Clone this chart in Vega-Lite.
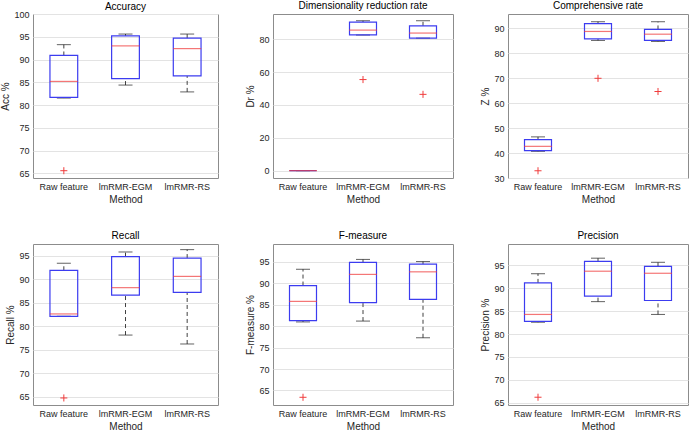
{
  "$schema": "https://vega.github.io/schema/vega-lite/v6.json",
  "background": "white",
  "padding": {"left": 0, "top": 0, "right": 2, "bottom": 0},
  "config": {
    "font": "Liberation Sans",
    "view": {"stroke": "#8c8c8c", "strokeWidth": 1},
    "axis": {"labelFontSize": 9, "labelColor": "#262626", "titleFontSize": 10, "titleColor": "#262626", "titleFontWeight": "normal", "domain": false, "ticks": false, "labelPadding": 4, "gridColor": "#e3e3e3", "gridWidth": 1, "labelOverlap": false},
    "axisX": {"grid": false, "labelAngle": 0, "titlePadding": 3},
    "axisY": {"grid": true, "titlePadding": 3, "tickCount": 20},
    "title": {"fontSize": 10, "fontWeight": "normal", "color": "#000000", "offset": 3}
  },
  "datasets": {
    "d": [
      {"metric": "Accuracy", "method": "Raw feature", "lo": 81.55, "q1": 81.7, "med": 85.2, "q3": 90.9, "hi": 93.27, "out": 65.6},
      {"metric": "Accuracy", "method": "lmRMR-EGM", "lo": 84.4, "q1": 85.8, "med": 93.0, "q3": 95.2, "hi": 95.6, "out": null},
      {"metric": "Accuracy", "method": "lmRMR-RS", "lo": 82.9, "q1": 86.4, "med": 92.4, "q3": 94.7, "hi": 95.6, "out": null},
      {"metric": "Dr", "method": "Raw feature", "lo": 0, "q1": 0, "med": 0, "q3": 0, "hi": 0, "out": null},
      {"metric": "Dr", "method": "lmRMR-EGM", "lo": 82.5, "q1": 82.6, "med": 85.5, "q3": 90.4, "hi": 91.2, "out": 55.4},
      {"metric": "Dr", "method": "lmRMR-RS", "lo": 80.6, "q1": 80.6, "med": 83.7, "q3": 88.1, "hi": 91.2, "out": 46.4},
      {"metric": "Z", "method": "Raw feature", "lo": 40.7, "q1": 41.0, "med": 42.7, "q3": 45.4, "hi": 46.5, "out": 32.9},
      {"metric": "Z", "method": "lmRMR-EGM", "lo": 85.2, "q1": 85.8, "med": 88.8, "q3": 91.9, "hi": 92.7, "out": 70.0},
      {"metric": "Z", "method": "lmRMR-RS", "lo": 84.8, "q1": 85.2, "med": 87.7, "q3": 89.6, "hi": 92.7, "out": 64.7},
      {"metric": "Recall", "method": "Raw feature", "lo": 82.1, "q1": 82.1, "med": 82.6, "q3": 91.9, "hi": 93.4, "out": 64.7},
      {"metric": "Recall", "method": "lmRMR-EGM", "lo": 78.1, "q1": 86.6, "med": 88.2, "q3": 94.8, "hi": 95.8, "out": null},
      {"metric": "Recall", "method": "lmRMR-RS", "lo": 76.2, "q1": 87.2, "med": 90.6, "q3": 94.5, "hi": 96.3, "out": null},
      {"metric": "F", "method": "Raw feature", "lo": 81.0, "q1": 81.3, "med": 85.8, "q3": 89.5, "hi": 93.3, "out": 63.4},
      {"metric": "F", "method": "lmRMR-EGM", "lo": 81.2, "q1": 85.5, "med": 92.1, "q3": 94.9, "hi": 95.6, "out": null},
      {"metric": "F", "method": "lmRMR-RS", "lo": 77.3, "q1": 86.25, "med": 92.7, "q3": 94.5, "hi": 95.1, "out": null},
      {"metric": "Precision", "method": "Raw feature", "lo": 82.6, "q1": 82.8, "med": 84.3, "q3": 91.2, "hi": 93.2, "out": 66.2},
      {"metric": "Precision", "method": "lmRMR-EGM", "lo": 87.1, "q1": 88.3, "med": 93.75, "q3": 95.9, "hi": 96.6, "out": null},
      {"metric": "Precision", "method": "lmRMR-RS", "lo": 84.3, "q1": 87.35, "med": 93.3, "q3": 94.8, "hi": 95.7, "out": null}
    ]
  },
  "data": {"name": "d"},
  "columns": 3,
  "bounds": "flush",
  "spacing": {"row": 66, "column": 55},
  "concat": [
    {
      "width": 185, "height": 164, "title": {"text": "Accuracy", "offset": -1.5},
      "transform": [{"filter": "datum.metric === 'Accuracy'"}],
      "encoding": {"x": {"field": "method", "type": "nominal", "sort": ["Raw feature", "lmRMR-EGM", "lmRMR-RS"], "title": "Method", "scale": {"paddingInner": 0, "paddingOuter": 0}}},
      "layer": [
        {"mark": {"type": "rule", "color": "#404040", "strokeDash": [4, 3]}, "encoding": {"y": {"field": "lo", "type": "quantitative", "title": "Acc %", "scale": {"domain": [64, 100], "nice": false, "zero": false}, "axis": {"values": [65, 70, 75, 80, 85, 90, 95, 100], "tickCount": 20}}, "y2": {"field": "q1"}}},
        {"mark": {"type": "rule", "color": "#404040", "strokeDash": [4, 3]}, "encoding": {"y": {"field": "q3", "type": "quantitative", "title": "Acc %", "scale": {"domain": [64, 100], "nice": false, "zero": false}, "axis": {"values": [65, 70, 75, 80, 85, 90, 95, 100], "tickCount": 20}}, "y2": {"field": "hi"}}},
        {"mark": {"type": "tick", "color": "#202020", "size": 14, "thickness": 1}, "encoding": {"y": {"field": "lo", "type": "quantitative", "title": "Acc %", "scale": {"domain": [64, 100], "nice": false, "zero": false}, "axis": {"values": [65, 70, 75, 80, 85, 90, 95, 100], "tickCount": 20}}}},
        {"mark": {"type": "tick", "color": "#202020", "size": 14, "thickness": 1}, "encoding": {"y": {"field": "hi", "type": "quantitative", "title": "Acc %", "scale": {"domain": [64, 100], "nice": false, "zero": false}, "axis": {"values": [65, 70, 75, 80, 85, 90, 95, 100], "tickCount": 20}}}},
        {"mark": {"type": "bar", "fill": "transparent", "stroke": "#3c3cf0", "strokeWidth": 1.2, "width": {"band": 0.45}}, "encoding": {"y": {"field": "q1", "type": "quantitative", "title": "Acc %", "scale": {"domain": [64, 100], "nice": false, "zero": false}, "axis": {"values": [65, 70, 75, 80, 85, 90, 95, 100], "tickCount": 20}}, "y2": {"field": "q3"}}},
        {"mark": {"type": "tick", "color": "#f03c3c", "size": 28, "thickness": 1.2}, "encoding": {"y": {"field": "med", "type": "quantitative", "title": "Acc %", "scale": {"domain": [64, 100], "nice": false, "zero": false}, "axis": {"values": [65, 70, 75, 80, 85, 90, 95, 100], "tickCount": 20}}}},
        {"mark": {"type": "point", "shape": "M-1,0L1,0M0,-1L0,1", "size": 50, "filled": false, "color": "#f03c3c", "strokeWidth": 1, "opacity": 1}, "encoding": {"y": {"field": "out", "type": "quantitative", "title": "Acc %", "scale": {"domain": [64, 100], "nice": false, "zero": false}, "axis": {"values": [65, 70, 75, 80, 85, 90, 95, 100], "tickCount": 20}}}}
      ]
    },
    {
      "width": 180, "height": 164, "title": "Dimensionality reduction rate",
      "transform": [{"filter": "datum.metric === 'Dr'"}],
      "encoding": {"x": {"field": "method", "type": "nominal", "sort": ["Raw feature", "lmRMR-EGM", "lmRMR-RS"], "title": "Method", "scale": {"paddingInner": 0, "paddingOuter": 0}}},
      "layer": [
        {"mark": {"type": "rule", "color": "#404040", "strokeDash": [4, 3]}, "encoding": {"y": {"field": "lo", "type": "quantitative", "title": "Dr %", "scale": {"domain": [-4.5, 95.3], "nice": false, "zero": false}, "axis": {"values": [0, 20, 40, 60, 80], "tickCount": 20}}, "y2": {"field": "q1"}}},
        {"mark": {"type": "rule", "color": "#404040", "strokeDash": [4, 3]}, "encoding": {"y": {"field": "q3", "type": "quantitative", "title": "Dr %", "scale": {"domain": [-4.5, 95.3], "nice": false, "zero": false}, "axis": {"values": [0, 20, 40, 60, 80], "tickCount": 20}}, "y2": {"field": "hi"}}},
        {"mark": {"type": "tick", "color": "#202020", "size": 14, "thickness": 1}, "encoding": {"y": {"field": "lo", "type": "quantitative", "title": "Dr %", "scale": {"domain": [-4.5, 95.3], "nice": false, "zero": false}, "axis": {"values": [0, 20, 40, 60, 80], "tickCount": 20}}}},
        {"mark": {"type": "tick", "color": "#202020", "size": 14, "thickness": 1}, "encoding": {"y": {"field": "hi", "type": "quantitative", "title": "Dr %", "scale": {"domain": [-4.5, 95.3], "nice": false, "zero": false}, "axis": {"values": [0, 20, 40, 60, 80], "tickCount": 20}}}},
        {"mark": {"type": "bar", "fill": "transparent", "stroke": "#3c3cf0", "strokeWidth": 1.2, "width": {"band": 0.45}}, "encoding": {"y": {"field": "q1", "type": "quantitative", "title": "Dr %", "scale": {"domain": [-4.5, 95.3], "nice": false, "zero": false}, "axis": {"values": [0, 20, 40, 60, 80], "tickCount": 20}}, "y2": {"field": "q3"}}},
        {"mark": {"type": "tick", "color": "#f03c3c", "size": 28, "thickness": 1.2}, "encoding": {"y": {"field": "med", "type": "quantitative", "title": "Dr %", "scale": {"domain": [-4.5, 95.3], "nice": false, "zero": false}, "axis": {"values": [0, 20, 40, 60, 80], "tickCount": 20}}}},
        {"mark": {"type": "point", "shape": "M-1,0L1,0M0,-1L0,1", "size": 50, "filled": false, "color": "#f03c3c", "strokeWidth": 1, "opacity": 1}, "encoding": {"y": {"field": "out", "type": "quantitative", "title": "Dr %", "scale": {"domain": [-4.5, 95.3], "nice": false, "zero": false}, "axis": {"values": [0, 20, 40, 60, 80], "tickCount": 20}}}}
      ]
    },
    {
      "width": 180, "height": 164, "title": "Comprehensive rate",
      "transform": [{"filter": "datum.metric === 'Z'"}],
      "encoding": {"x": {"field": "method", "type": "nominal", "sort": ["Raw feature", "lmRMR-EGM", "lmRMR-RS"], "title": "Method", "scale": {"paddingInner": 0, "paddingOuter": 0}}},
      "layer": [
        {"mark": {"type": "rule", "color": "#404040", "strokeDash": [4, 3]}, "encoding": {"y": {"field": "lo", "type": "quantitative", "title": "Z %", "scale": {"domain": [30, 95.8], "nice": false, "zero": false}, "axis": {"values": [30, 40, 50, 60, 70, 80, 90], "tickCount": 20}}, "y2": {"field": "q1"}}},
        {"mark": {"type": "rule", "color": "#404040", "strokeDash": [4, 3]}, "encoding": {"y": {"field": "q3", "type": "quantitative", "title": "Z %", "scale": {"domain": [30, 95.8], "nice": false, "zero": false}, "axis": {"values": [30, 40, 50, 60, 70, 80, 90], "tickCount": 20}}, "y2": {"field": "hi"}}},
        {"mark": {"type": "tick", "color": "#202020", "size": 14, "thickness": 1}, "encoding": {"y": {"field": "lo", "type": "quantitative", "title": "Z %", "scale": {"domain": [30, 95.8], "nice": false, "zero": false}, "axis": {"values": [30, 40, 50, 60, 70, 80, 90], "tickCount": 20}}}},
        {"mark": {"type": "tick", "color": "#202020", "size": 14, "thickness": 1}, "encoding": {"y": {"field": "hi", "type": "quantitative", "title": "Z %", "scale": {"domain": [30, 95.8], "nice": false, "zero": false}, "axis": {"values": [30, 40, 50, 60, 70, 80, 90], "tickCount": 20}}}},
        {"mark": {"type": "bar", "fill": "transparent", "stroke": "#3c3cf0", "strokeWidth": 1.2, "width": {"band": 0.45}}, "encoding": {"y": {"field": "q1", "type": "quantitative", "title": "Z %", "scale": {"domain": [30, 95.8], "nice": false, "zero": false}, "axis": {"values": [30, 40, 50, 60, 70, 80, 90], "tickCount": 20}}, "y2": {"field": "q3"}}},
        {"mark": {"type": "tick", "color": "#f03c3c", "size": 28, "thickness": 1.2}, "encoding": {"y": {"field": "med", "type": "quantitative", "title": "Z %", "scale": {"domain": [30, 95.8], "nice": false, "zero": false}, "axis": {"values": [30, 40, 50, 60, 70, 80, 90], "tickCount": 20}}}},
        {"mark": {"type": "point", "shape": "M-1,0L1,0M0,-1L0,1", "size": 50, "filled": false, "color": "#f03c3c", "strokeWidth": 1, "opacity": 1}, "encoding": {"y": {"field": "out", "type": "quantitative", "title": "Z %", "scale": {"domain": [30, 95.8], "nice": false, "zero": false}, "axis": {"values": [30, 40, 50, 60, 70, 80, 90], "tickCount": 20}}}}
      ]
    },
    {
      "width": 185, "height": 161, "title": "Recall",
      "transform": [{"filter": "datum.metric === 'Recall'"}],
      "encoding": {"x": {"field": "method", "type": "nominal", "sort": ["Raw feature", "lmRMR-EGM", "lmRMR-RS"], "title": "Method", "scale": {"paddingInner": 0, "paddingOuter": 0}}},
      "layer": [
        {"mark": {"type": "rule", "color": "#404040", "strokeDash": [4, 3]}, "encoding": {"y": {"field": "lo", "type": "quantitative", "title": "Recall %", "scale": {"domain": [63.2, 97.5], "nice": false, "zero": false}, "axis": {"values": [65, 70, 75, 80, 85, 90, 95], "tickCount": 20}}, "y2": {"field": "q1"}}},
        {"mark": {"type": "rule", "color": "#404040", "strokeDash": [4, 3]}, "encoding": {"y": {"field": "q3", "type": "quantitative", "title": "Recall %", "scale": {"domain": [63.2, 97.5], "nice": false, "zero": false}, "axis": {"values": [65, 70, 75, 80, 85, 90, 95], "tickCount": 20}}, "y2": {"field": "hi"}}},
        {"mark": {"type": "tick", "color": "#202020", "size": 14, "thickness": 1}, "encoding": {"y": {"field": "lo", "type": "quantitative", "title": "Recall %", "scale": {"domain": [63.2, 97.5], "nice": false, "zero": false}, "axis": {"values": [65, 70, 75, 80, 85, 90, 95], "tickCount": 20}}}},
        {"mark": {"type": "tick", "color": "#202020", "size": 14, "thickness": 1}, "encoding": {"y": {"field": "hi", "type": "quantitative", "title": "Recall %", "scale": {"domain": [63.2, 97.5], "nice": false, "zero": false}, "axis": {"values": [65, 70, 75, 80, 85, 90, 95], "tickCount": 20}}}},
        {"mark": {"type": "bar", "fill": "transparent", "stroke": "#3c3cf0", "strokeWidth": 1.2, "width": {"band": 0.45}}, "encoding": {"y": {"field": "q1", "type": "quantitative", "title": "Recall %", "scale": {"domain": [63.2, 97.5], "nice": false, "zero": false}, "axis": {"values": [65, 70, 75, 80, 85, 90, 95], "tickCount": 20}}, "y2": {"field": "q3"}}},
        {"mark": {"type": "tick", "color": "#f03c3c", "size": 28, "thickness": 1.2}, "encoding": {"y": {"field": "med", "type": "quantitative", "title": "Recall %", "scale": {"domain": [63.2, 97.5], "nice": false, "zero": false}, "axis": {"values": [65, 70, 75, 80, 85, 90, 95], "tickCount": 20}}}},
        {"mark": {"type": "point", "shape": "M-1,0L1,0M0,-1L0,1", "size": 50, "filled": false, "color": "#f03c3c", "strokeWidth": 1, "opacity": 1}, "encoding": {"y": {"field": "out", "type": "quantitative", "title": "Recall %", "scale": {"domain": [63.2, 97.5], "nice": false, "zero": false}, "axis": {"values": [65, 70, 75, 80, 85, 90, 95], "tickCount": 20}}}}
      ]
    },
    {
      "width": 180, "height": 161, "title": "F-measure",
      "transform": [{"filter": "datum.metric === 'F'"}],
      "encoding": {"x": {"field": "method", "type": "nominal", "sort": ["Raw feature", "lmRMR-EGM", "lmRMR-RS"], "title": "Method", "scale": {"paddingInner": 0, "paddingOuter": 0}}},
      "layer": [
        {"mark": {"type": "rule", "color": "#404040", "strokeDash": [4, 3]}, "encoding": {"y": {"field": "lo", "type": "quantitative", "title": "F-measure %", "scale": {"domain": [61.6, 99.2], "nice": false, "zero": false}, "axis": {"values": [65, 70, 75, 80, 85, 90, 95], "tickCount": 20}}, "y2": {"field": "q1"}}},
        {"mark": {"type": "rule", "color": "#404040", "strokeDash": [4, 3]}, "encoding": {"y": {"field": "q3", "type": "quantitative", "title": "F-measure %", "scale": {"domain": [61.6, 99.2], "nice": false, "zero": false}, "axis": {"values": [65, 70, 75, 80, 85, 90, 95], "tickCount": 20}}, "y2": {"field": "hi"}}},
        {"mark": {"type": "tick", "color": "#202020", "size": 14, "thickness": 1}, "encoding": {"y": {"field": "lo", "type": "quantitative", "title": "F-measure %", "scale": {"domain": [61.6, 99.2], "nice": false, "zero": false}, "axis": {"values": [65, 70, 75, 80, 85, 90, 95], "tickCount": 20}}}},
        {"mark": {"type": "tick", "color": "#202020", "size": 14, "thickness": 1}, "encoding": {"y": {"field": "hi", "type": "quantitative", "title": "F-measure %", "scale": {"domain": [61.6, 99.2], "nice": false, "zero": false}, "axis": {"values": [65, 70, 75, 80, 85, 90, 95], "tickCount": 20}}}},
        {"mark": {"type": "bar", "fill": "transparent", "stroke": "#3c3cf0", "strokeWidth": 1.2, "width": {"band": 0.45}}, "encoding": {"y": {"field": "q1", "type": "quantitative", "title": "F-measure %", "scale": {"domain": [61.6, 99.2], "nice": false, "zero": false}, "axis": {"values": [65, 70, 75, 80, 85, 90, 95], "tickCount": 20}}, "y2": {"field": "q3"}}},
        {"mark": {"type": "tick", "color": "#f03c3c", "size": 28, "thickness": 1.2}, "encoding": {"y": {"field": "med", "type": "quantitative", "title": "F-measure %", "scale": {"domain": [61.6, 99.2], "nice": false, "zero": false}, "axis": {"values": [65, 70, 75, 80, 85, 90, 95], "tickCount": 20}}}},
        {"mark": {"type": "point", "shape": "M-1,0L1,0M0,-1L0,1", "size": 50, "filled": false, "color": "#f03c3c", "strokeWidth": 1, "opacity": 1}, "encoding": {"y": {"field": "out", "type": "quantitative", "title": "F-measure %", "scale": {"domain": [61.6, 99.2], "nice": false, "zero": false}, "axis": {"values": [65, 70, 75, 80, 85, 90, 95], "tickCount": 20}}}}
      ]
    },
    {
      "width": 180, "height": 161, "title": "Precision",
      "transform": [{"filter": "datum.metric === 'Precision'"}],
      "encoding": {"x": {"field": "method", "type": "nominal", "sort": ["Raw feature", "lmRMR-EGM", "lmRMR-RS"], "title": "Method", "scale": {"paddingInner": 0, "paddingOuter": 0}}},
      "layer": [
        {"mark": {"type": "rule", "color": "#404040", "strokeDash": [4, 3]}, "encoding": {"y": {"field": "lo", "type": "quantitative", "title": "Precision %", "scale": {"domain": [64.5, 99.7], "nice": false, "zero": false}, "axis": {"values": [65, 70, 75, 80, 85, 90, 95], "tickCount": 20}}, "y2": {"field": "q1"}}},
        {"mark": {"type": "rule", "color": "#404040", "strokeDash": [4, 3]}, "encoding": {"y": {"field": "q3", "type": "quantitative", "title": "Precision %", "scale": {"domain": [64.5, 99.7], "nice": false, "zero": false}, "axis": {"values": [65, 70, 75, 80, 85, 90, 95], "tickCount": 20}}, "y2": {"field": "hi"}}},
        {"mark": {"type": "tick", "color": "#202020", "size": 14, "thickness": 1}, "encoding": {"y": {"field": "lo", "type": "quantitative", "title": "Precision %", "scale": {"domain": [64.5, 99.7], "nice": false, "zero": false}, "axis": {"values": [65, 70, 75, 80, 85, 90, 95], "tickCount": 20}}}},
        {"mark": {"type": "tick", "color": "#202020", "size": 14, "thickness": 1}, "encoding": {"y": {"field": "hi", "type": "quantitative", "title": "Precision %", "scale": {"domain": [64.5, 99.7], "nice": false, "zero": false}, "axis": {"values": [65, 70, 75, 80, 85, 90, 95], "tickCount": 20}}}},
        {"mark": {"type": "bar", "fill": "transparent", "stroke": "#3c3cf0", "strokeWidth": 1.2, "width": {"band": 0.45}}, "encoding": {"y": {"field": "q1", "type": "quantitative", "title": "Precision %", "scale": {"domain": [64.5, 99.7], "nice": false, "zero": false}, "axis": {"values": [65, 70, 75, 80, 85, 90, 95], "tickCount": 20}}, "y2": {"field": "q3"}}},
        {"mark": {"type": "tick", "color": "#f03c3c", "size": 28, "thickness": 1.2}, "encoding": {"y": {"field": "med", "type": "quantitative", "title": "Precision %", "scale": {"domain": [64.5, 99.7], "nice": false, "zero": false}, "axis": {"values": [65, 70, 75, 80, 85, 90, 95], "tickCount": 20}}}},
        {"mark": {"type": "point", "shape": "M-1,0L1,0M0,-1L0,1", "size": 50, "filled": false, "color": "#f03c3c", "strokeWidth": 1, "opacity": 1}, "encoding": {"y": {"field": "out", "type": "quantitative", "title": "Precision %", "scale": {"domain": [64.5, 99.7], "nice": false, "zero": false}, "axis": {"values": [65, 70, 75, 80, 85, 90, 95], "tickCount": 20}}}}
      ]
    }
  ]
}
